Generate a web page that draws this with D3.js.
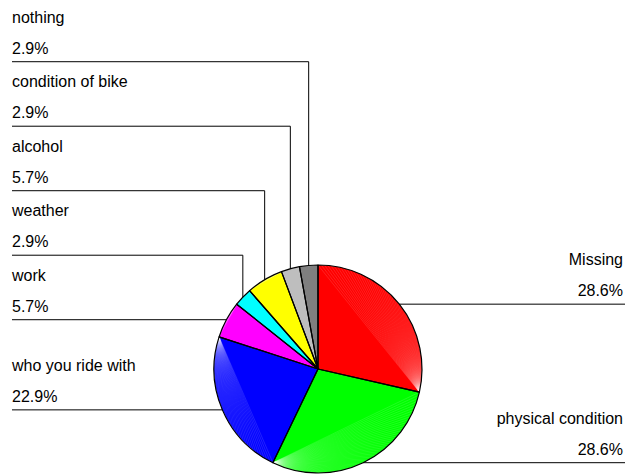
<!DOCTYPE html>
<html>
<head>
<meta charset="utf-8">
<script src="https://cdn.jsdelivr.net/npm/d3@7"></script>
<style>
  body { margin: 0; background: #fff; }
  text { font-family: "Liberation Sans", Arial, sans-serif; font-size: 16px; fill: #000; }
</style>
</head>
<body>
<div id="viz"><svg></svg></div>
<script>
// data, clockwise from 12 o'clock
const categories = ['Missing', 'physical condition', 'who you ride with', 'work',
                    'weather', 'alcohol', 'condition of bike', 'nothing'];
const counts = [10, 10, 8, 2, 1, 2, 1, 1];
const colors = ['#ff0000', '#00ff00', '#0000ff', '#ff00ff',
                '#00ffff', '#ffff00', '#bebebe', '#7f7f7f'];

const SETTINGS = {
    width: 625,
    height: 475,
    cx: 318,
    cy: 369,
    radius: 104,
    leftX: 12,
    rightX: 623,
    gap: 64.5
};

const total = d3.sum(counts);
const fmt = d3.format('.1%');

let svg = d3.select('#viz').select('svg')
    .attr('width', SETTINGS.width)
    .attr('height', SETTINGS.height);

let pie = d3.pie().sort(null).value(d => d)(counts);
let arc = d3.arc().innerRadius(0).outerRadius(SETTINGS.radius);

function onCircle(a) {
    return [SETTINGS.cx + SETTINGS.radius * Math.sin(a),
            SETTINGS.cy - SETTINGS.radius * Math.cos(a)];
}

let g = svg.append('g')
    .attr('transform', `translate(${SETTINGS.cx},${SETTINGS.cy})`);

g.selectAll('path.slice')
    .data(pie)
    .enter()
    .append('path')
    .attr('class', 'slice')
    .attr('d', arc)
    .attr('fill', (d, i) => colors[i]);

// faint fan lines like the original rendering
pie.forEach((d, i) => {
    let n = Math.max(2, Math.floor(200 * (d.endAngle - d.startAngle) / (2 * Math.PI)));
    let end = onCircle(d.endAngle);
    for (let k = 0; k < n - 1; k++) {
        let p = onCircle(d.startAngle + (d.endAngle - d.startAngle) * k / n);
        svg.append('line')
            .attr('x1', end[0]).attr('y1', end[1])
            .attr('x2', p[0]).attr('y2', p[1])
            .attr('stroke', '#fff')
            .attr('stroke-opacity', 0.25)
            .attr('stroke-width', 0.5);
    }
});

svg.append('g')
    .attr('transform', `translate(${SETTINGS.cx},${SETTINGS.cy})`)
    .selectAll('path')
    .data(pie)
    .enter()
    .append('path')
    .attr('d', arc)
    .attr('fill', 'none')
    .attr('stroke', '#000')
    .attr('stroke-width', 1.2)
    .attr('stroke-linejoin', 'round');

// label anchors at the middle of each arc
let labels = pie.map((d, i) => {
    let mid = (d.startAngle + d.endAngle) / 2;
    let p = onCircle(mid);
    return { i: i, x: p[0], y: p[1], right: Math.sin(mid) > 0, ly: p[1] };
});

// left labels stack upward from the bottom
let left = labels.filter(l => !l.right).sort((a, b) => b.y - a.y);
for (let k = 1; k < left.length; k++) {
    left[k].ly = Math.min(left[k].y, left[k - 1].ly - SETTINGS.gap);
}

labels.forEach(l => {
    let edge = l.right ? SETTINGS.width : SETTINGS.leftX;
    svg.append('polyline')
        .attr('points', [[l.x, l.y], [l.x, l.ly], [edge, l.ly]].map(p => p.join(',')).join(' '))
        .attr('fill', 'none')
        .attr('stroke', '#000')
        .attr('stroke-width', 1);

    let tx = l.right ? SETTINGS.rightX : SETTINGS.leftX;
    let anchor = l.right ? 'end' : 'start';
    svg.append('text')
        .attr('x', tx)
        .attr('y', l.ly - 39)
        .attr('text-anchor', anchor)
        .text(categories[l.i]);
    svg.append('text')
        .attr('x', tx)
        .attr('y', l.ly - 8)
        .attr('text-anchor', anchor)
        .text(fmt(counts[l.i] / total));
});
</script>
</body>
</html>
